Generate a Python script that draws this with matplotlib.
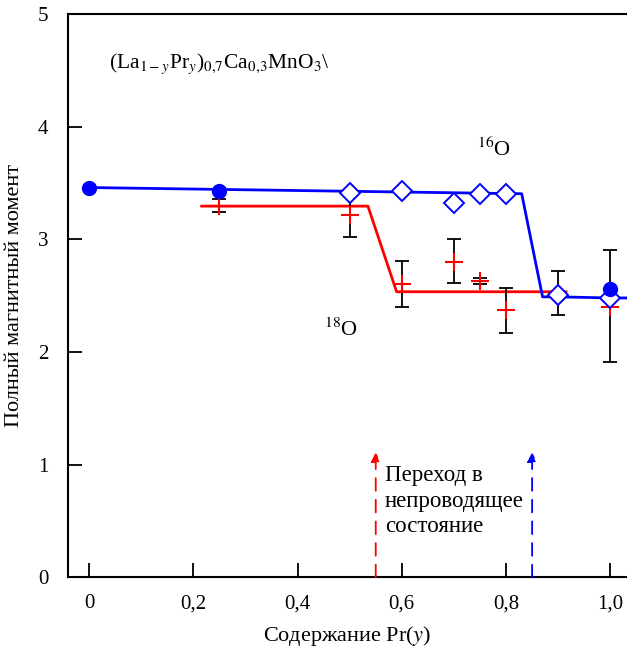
import matplotlib
matplotlib.use("Agg")
import matplotlib.pyplot as plt
import numpy as np

plt.rcParams["font.family"] = ["Liberation Serif", "DejaVu Serif"]
plt.rcParams["mathtext.fontset"] = "stix"

# Oxygen-16 samples
o16_circle_x = [0.0, 0.25, 1.0]
o16_circle_y = [3.46, 3.43, 2.56]
o16_diamond_x = [0.5, 0.6, 0.7, 0.75, 0.8, 0.9, 1.0]
o16_diamond_y = [3.41, 3.43, 3.32, 3.40, 3.40, 2.51, 2.48]
o16_line_x = [0.0, 0.83, 0.87, 0.9, 1.0, 1.04]
o16_line_y = [3.46, 3.405, 2.49, 2.49, 2.48, 2.48]

# Oxygen-18 samples with error bars
o18_x = [0.25, 0.5, 0.6, 0.7, 0.75, 0.8, 0.9, 1.0]
o18_y = [3.30, 3.22, 2.60, 2.80, 2.63, 2.37, 2.51, 2.40]
o18_err_low = [0.055, 0.20, 0.20, 0.19, 0.03, 0.20, 0.18, 0.49]
o18_err_high = [0.06, 0.20, 0.205, 0.20, 0.03, 0.20, 0.21, 0.505]
o18_line_x = [0.216, 0.535, 0.59, 0.915]
o18_line_y = [3.295, 3.295, 2.535, 2.535]

# Metal-insulator transition positions
transition_x = [0.55, 0.85]
transition_colors = ["red", "blue"]
transition_top = 1.11

xticks = [0, 0.2, 0.4, 0.6, 0.8, 1.0]
xtick_labels = ["0", "0,2", "0,4", "0,6", "0,8", "1,0"]
yticks = [0, 1, 2, 3, 4, 5]

fig = plt.figure(figsize=(6.27, 6.52), dpi=100)
ax = fig.add_axes([0.1085, 0.1144, 0.8915, 0.8641])

ax.plot(o18_line_x, o18_line_y, color="red", lw=2, zorder=2)
ax.plot(o16_line_x, o16_line_y, color="blue", lw=2, zorder=2)

ax.errorbar(o18_x, o18_y, yerr=[o18_err_low, o18_err_high], fmt="none",
            ecolor="black", elinewidth=1.3, capsize=5, capthick=1.3, zorder=3)
ax.plot(o18_x, o18_y, ls="none", marker="+", ms=13, mew=1.5,
        color="red", zorder=4)

ax.plot(o16_diamond_x, o16_diamond_y, ls="none", marker="D", ms=10,
        mfc="white", mec="blue", mew=1.4, zorder=5)
ax.plot(o16_circle_x, o16_circle_y, ls="none", marker="o", ms=10,
        color="blue", zorder=6)

for xv, c in zip(transition_x, transition_colors):
    ax.annotate("", xy=(xv, transition_top), xytext=(xv, 0),
                arrowprops=dict(arrowstyle="-|>", color=c, lw=1.3,
                                linestyle=(0, (7, 5)), mutation_scale=14,
                                shrinkA=0, shrinkB=0))

ax.text(0.568, 1.0, "Переход в\nнепроводящее\nсостояние", fontsize=16.5,
        va="top", ha="left", linespacing=1.3)
ax.text(0.038, 4.56,
        r"(La$_{1-y}$Pr$_y$)$_{0{,}7}$Ca$_{0{,}3}$MnO$_3$" + "\\",
        fontsize=15.5, ha="left", va="center")
ax.text(0.745, 3.8, r"$^{16}$O", fontsize=16, ha="left", va="center")
ax.text(0.45, 2.2, r"$^{18}$O", fontsize=16, ha="left", va="center")

ax.set_xlim(-0.0403, 1.032)
ax.set_ylim(0, 5)
ax.set_xticks(xticks)
ax.set_xticklabels(xtick_labels)
ax.set_yticks(yticks)
ax.tick_params(direction="in", length=10, width=1.3, labelsize=15, pad=12)
ax.tick_params(axis="y", pad=14)
ax.spines["right"].set_visible(False)
for s in ["left", "bottom", "top"]:
    ax.spines[s].set_linewidth(1.5)

ax.set_xlabel("Содержание Pr($y$)", fontsize=16, labelpad=8)
ax.set_ylabel("Полный магнитный момент", fontsize=16, labelpad=10)

fig.savefig("out.png", dpi=100)
